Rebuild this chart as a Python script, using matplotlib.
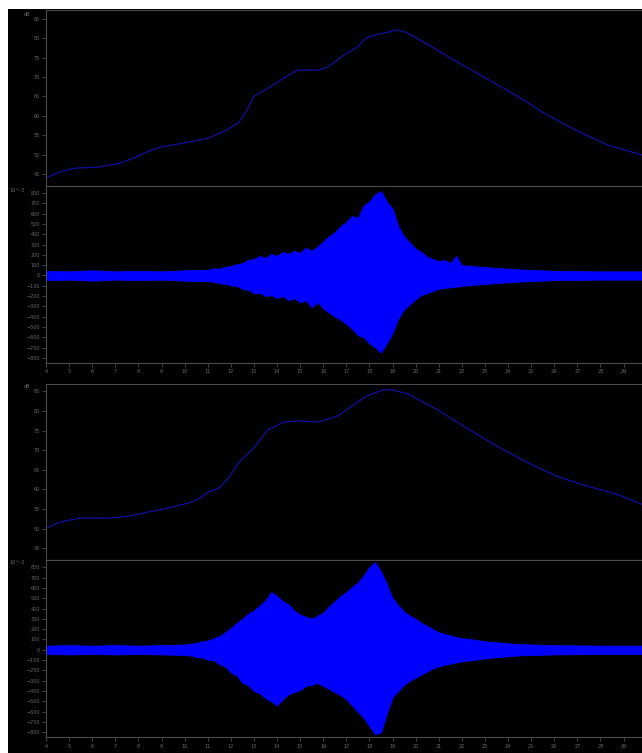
import matplotlib
matplotlib.use("Agg")
import matplotlib.pyplot as plt
from matplotlib.patches import Rectangle

# level curves (dB)
t_lvl1 = [4, 4.6, 5.25, 6.3, 7.2, 7.8, 8.5, 9.0, 10.0, 11.0, 11.7, 12.3, 12.7, 13.0, 13.85,
          14.5, 14.9, 15.8, 16.2, 16.9, 17.5, 17.85, 18.4, 18.8, 19.2, 19.65, 20.5, 21.8,
          23.1, 24.4, 25.7, 27.0, 28.3, 29.8]
lvl1 = [44.0, 45.5, 46.5, 46.8, 47.8, 49.1, 51.0, 52.0, 53.0, 54.2, 56.0, 58.0, 61.5, 65.0, 68.0,
        70.5, 71.8, 71.8, 72.6, 75.7, 77.8, 80.1, 81.1, 81.6, 82.2, 81.4, 78.5, 73.9,
        69.5, 65.1, 60.2, 56.1, 52.5, 49.9]

t_lvl2 = [4, 4.6, 5.46, 6.75, 7.6, 8.47, 9.33, 10.2, 10.6, 11.05, 11.5, 11.9, 12.35, 13.0,
          13.6, 14.3, 14.9, 15.8, 16.65, 17.3, 17.9, 18.6, 19.0, 19.65, 20.95, 22.2, 23.5,
          24.8, 26.1, 27.4, 28.7, 29.8]
lvl2 = [50.1, 51.7, 52.7, 52.7, 53.2, 54.3, 55.3, 56.6, 57.6, 59.4, 60.4, 62.9, 67.0, 70.6,
        75.2, 77.2, 77.5, 77.2, 78.8, 81.6, 83.9, 85.4, 85.4, 84.4, 80.3, 75.7, 71.1,
        67.0, 63.4, 60.9, 58.8, 56.2]

# waveform envelopes (x 10^-3)
t_w1 = [4, 5, 6, 7, 8, 9, 10,
        11.0, 11.25, 11.5, 11.75, 12.0, 12.25, 12.5, 12.75, 13.0, 13.25, 13.5, 13.75,
        14.0, 14.25, 14.5, 14.75, 15.0, 15.25, 15.5, 15.75, 16.0, 16.25, 16.5, 16.75,
        17.0, 17.25, 17.5, 17.75, 18.0, 18.25, 18.5, 18.75, 19.0, 19.25, 19.5, 19.75,
        20.0, 20.25, 20.5, 20.75, 21.0, 21.25, 21.5, 21.75, 22.0,
        22.5, 23.1, 24.4, 26, 28, 29.8]
w1_top = [45, 40, 50, 40, 45, 40, 50,
          55, 70, 65, 85, 90, 110, 120, 150, 160, 190, 170, 210,
          190, 230, 210, 240, 220, 270, 240, 280, 330, 380, 420, 480,
          520, 580, 560, 680, 720, 790, 820, 720, 650, 480, 380, 320,
          260, 230, 180, 160, 140, 150, 120, 190, 100,
          90, 80, 60, 45, 40, 40]
w1_bot = [-45, -40, -50, -40, -45, -40, -50,
          -55, -60, -75, -80, -95, -100, -130, -140, -170, -170, -200, -190,
          -220, -200, -240, -220, -260, -240, -310, -260, -320, -360, -400, -430,
          -470, -520, -580, -600, -660, -700, -750, -660, -560, -420, -330, -280,
          -230, -190, -170, -150, -130, -120, -115, -110, -100,
          -90, -80, -60, -45, -40, -40]

t_w2 = [4, 5, 6, 7, 8, 9,
        10.0, 10.25, 10.5, 10.75, 11.0, 11.25, 11.5, 11.75, 12.0, 12.25, 12.5, 12.75,
        13.0, 13.25, 13.5, 13.75, 14.0, 14.25, 14.5, 14.75, 15.0, 15.25, 15.5, 15.75,
        16.0, 16.25, 16.5, 16.75, 17.0, 17.25, 17.5, 17.75, 18.0, 18.25, 18.5, 18.75,
        19.0, 19.25, 19.5, 19.75, 20.0, 20.25, 20.5, 20.75, 21.0,
        21.8, 23.1, 24.4, 26, 28, 29.8]
w2_top = [40, 45, 40, 45, 40, 45,
          50, 60, 65, 80, 90, 110, 130, 170, 210, 260, 300, 350,
          380, 430, 480, 560, 520, 470, 440, 380, 340, 320, 300, 330,
          360, 420, 470, 520, 560, 610, 650, 720, 800, 850, 760, 640,
          500, 430, 370, 330, 300, 260, 230, 200, 170,
          120, 80, 55, 45, 40, 40]
w2_bot = [-40, -45, -40, -45, -40, -45,
          -50, -55, -70, -75, -95, -100, -140, -160, -220, -250, -320, -340,
          -400, -420, -470, -500, -540, -480, -430, -410, -390, -350, -340, -320,
          -350, -380, -410, -440, -480, -540, -600, -660, -740, -820, -800, -620,
          -460, -400, -340, -300, -270, -240, -210, -180, -160,
          -120, -80, -55, -45, -40, -40]

xticks = list(range(4, 30))
dbticks = [45, 50, 55, 60, 65, 70, 75, 80, 85]
wticks = list(range(-800, 900, 100))

grey = "#4a4a4a"
txt = "#6a6a6a"

fig = plt.figure(figsize=(6.42, 7.53), dpi=100)
fig.patch.set_facecolor("white")
fig.patches.append(Rectangle((8 / 642, 0), 1 - 8 / 642, 744 / 753, transform=fig.transFigure,
                             facecolor="black", edgecolor="none", zorder=-5))

L = 46 / 642
W = 1 - L
ax1 = fig.add_axes([L, 0.753, W, 0.9867 - 0.753])
ax2 = fig.add_axes([L, 0.518, W, 0.753 - 0.518])
ax3 = fig.add_axes([L, 0.2563, W, 0.490 - 0.2563])
ax4 = fig.add_axes([L, 0.0206, W, 0.2563 - 0.0206])


def style(ax):
    ax.set_facecolor("black")
    for s in ax.spines.values():
        s.set_color(grey)
        s.set_linewidth(0.8)
    ax.spines["right"].set_visible(False)
    ax.tick_params(colors=grey, labelcolor=txt, labelsize=3.5, length=3, width=0.6, pad=1.5)
    ax.set_xlim(4, 29.8)


for ax in (ax1, ax3):
    style(ax)
    ax.set_yticks(dbticks)
    ax.set_xticks([])
for ax in (ax2, ax4):
    style(ax)
    ax.set_yticks(wticks)
    ax.set_xticks(xticks)
    ax.set_ylim(-850, 870)

ax1.plot(t_lvl1, lvl1, color="#1010a0", lw=0.9)
ax1.set_ylim(41.9, 87.3)
ax3.plot(t_lvl2, lvl2, color="#1010a0", lw=0.9)
ax3.set_ylim(42.0, 86.9)

ax2.fill_between(t_w1, w1_bot, w1_top, color="#0000ff", lw=0.6)
ax4.fill_between(t_w2, w2_bot, w2_top, color="#0000ff", lw=0.6)

fig.text(27 / 642, 1 - 14 / 753, "dB", color=txt, fontsize=3.5, ha="center", va="center")
fig.text(27 / 642, 1 - 387 / 753, "dB", color=txt, fontsize=3.5, ha="center", va="center")
fig.text(17 / 642, 1 - 190 / 753, "10^-3", color=txt, fontsize=3.5, ha="center", va="center")
fig.text(17 / 642, 1 - 563 / 753, "10^-3", color=txt, fontsize=3.5, ha="center", va="center")

fig.savefig("out.png", dpi=100, facecolor=fig.get_facecolor())
